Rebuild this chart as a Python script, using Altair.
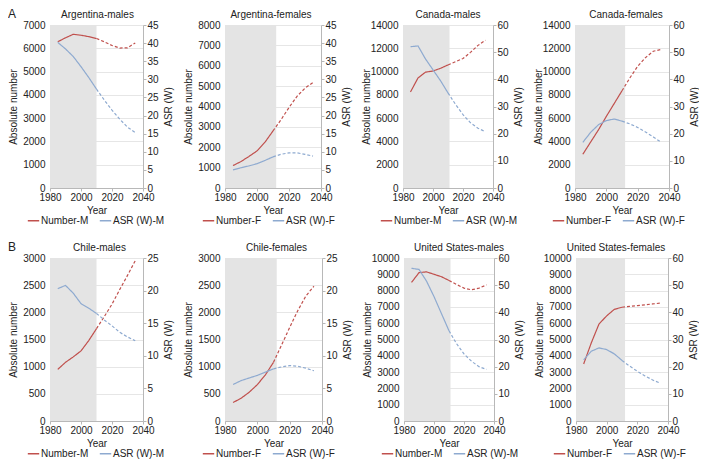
import altair as alt
import pandas as pd

# ---------------- data ----------------
years = [1985, 1990, 1995, 2000, 2005, 2010, 2015, 2020, 2025, 2030, 2035]

panel_titles = ["Argentina-males", "Argentina-females", "Canada-males", "Canada-females",
                "Chile-males", "Chile-females", "United States-males", "United States-females"]
panel_sex = ["M", "F", "M", "F", "M", "F", "M", "F"]
row_labels = ["A", "B"]

number_arg_m = [6280, 6450, 6600, 6560, 6500, 6420, 6280, 6120, 6010, 6020, 6230]
asr_arg_m = [40.2, 38.4, 36.3, 33.5, 30.5, 27.3, 24.3, 21.5, 19.0, 16.8, 15.3]
number_arg_f = [1100, 1300, 1550, 1820, 2250, 2800, 3350, 3950, 4500, 4900, 5180]
asr_arg_f = [5.0, 5.6, 6.1, 6.7, 7.6, 8.6, 9.3, 9.7, 9.7, 9.3, 8.8]
number_can_m = [8250, 9450, 9950, 10050, 10280, 10570, 10850, 11120, 11650, 12250, 12700]
asr_can_m = [52.0, 52.3, 47.5, 43.5, 39.5, 35.0, 30.8, 27.0, 24.0, 22.0, 20.7]
number_can_f = [2900, 3950, 5000, 6150, 7250, 8350, 9450, 10450, 11200, 11750, 11900]
asr_can_f = [16.8, 20.5, 23.3, 24.8, 25.4, 24.6, 23.6, 22.3, 20.6, 18.8, 16.8]
number_chi_m = [950, 1080, 1180, 1290, 1480, 1700, 1920, 2150, 2420, 2680, 2950]
asr_chi_m = [20.3, 20.8, 19.6, 18.0, 17.3, 16.5, 15.5, 14.6, 13.6, 12.9, 12.3]
number_chi_f = [340, 420, 530, 670, 850, 1080, 1400, 1720, 2030, 2300, 2480]
asr_chi_f = [5.6, 6.2, 6.6, 7.0, 7.5, 8.0, 8.3, 8.5, 8.4, 8.1, 7.7]
number_usa_m = [8500, 9100, 9150, 9000, 8850, 8620, 8380, 8150, 8050, 8150, 8350]
asr_usa_m = [56.2, 55.8, 51.5, 45.8, 39.5, 33.2, 28.5, 24.7, 22.0, 20.0, 19.0]
number_usa_f = [3500, 4800, 5950, 6450, 6850, 6980, 7030, 7080, 7130, 7180, 7230]
asr_usa_f = [22.5, 25.7, 26.9, 26.3, 24.7, 22.3, 20.2, 18.3, 16.6, 15.1, 13.9]

numbers = [number_arg_m, number_arg_f, number_can_m, number_can_f,
           number_chi_m, number_chi_f, number_usa_m, number_usa_f]
asrs = [asr_arg_m, asr_arg_f, asr_can_m, asr_can_f,
        asr_chi_m, asr_chi_f, asr_usa_m, asr_usa_f]

shade_start = 1980
shade_end = [2010, 2012, 2011, 2012, 2010, 2012, 2011, 2012]
projection_from = 2010

left_max = [7000, 8000, 14000, 14000, 3000, 3000, 10000, 10000]
left_step = [1000, 1000, 2000, 2000, 500, 500, 1000, 1000]
right_max = [45, 45, 60, 60, 25, 25, 60, 60]
right_step = [5, 5, 10, 10, 5, 5, 10, 10]
x_ticks = [1980, 2000, 2020, 2040]

# ---------------- style ----------------
RED = "#c0504d"
BLUE = "#8eaad0"
BAND = "#e4e4e4"
GRID = "#e6e6e6"
AXC = "#b8b8b8"
TXT = "#222222"
FONT = "Liberation Sans"
H = 163
widths = [93, 96, 90, 94, 93, 97, 90, 92]
title_dx = [1, -2, 0, 4, 3, 3, 10, -6]


def ticks(mx, step):
    return [k * step for k in range(int(round(mx / step)) + 1)]


def make_panel(i):
    s = panel_sex[i]
    num_name = f"Number-{s}"
    asr_name = f"ASR (W)-{s}"
    rows_n, rows_a = [], []
    for yr, n, a in zip(years, numbers[i], asrs[i]):
        if yr < projection_from:
            phases = ["obs"]
        elif yr > projection_from:
            phases = ["proj"]
        else:
            phases = ["obs", "proj"]
        for ph in phases:
            rows_n.append({"year": yr, "value": n, "series": num_name, "phase": ph})
            rows_a.append({"year": yr, "value": a, "series": asr_name, "phase": ph})

    xs = alt.Scale(domain=[1980, 2040], nice=False, zero=False)
    xaxis = alt.Axis(values=x_ticks, format="d", title="Year", grid=False,
                     tickSize=3, labelPadding=1, titlePadding=3, labelFlush=False,
                     domainColor=AXC, tickColor=AXC)
    color = alt.Color(
        "series:N",
        scale=alt.Scale(domain=[num_name, asr_name], range=[RED, BLUE]),
        legend=alt.Legend(orient="none", legendX=-23, legendY=H + 26,
                          direction="horizontal", title=None, symbolType="stroke",
                          symbolSize=130, symbolStrokeWidth=1.5, labelFontSize=10,
                          labelFont=FONT, labelColor=TXT, columnPadding=7,
                          labelOffset=1, padding=0),
    )
    dash = alt.StrokeDash("phase:N",
                          scale=alt.Scale(domain=["obs", "proj"], range=[[1, 0], [3, 2]]),
                          legend=None)

    band = alt.Chart(pd.DataFrame({"start": [shade_start], "end": [shade_end[i]]})).mark_rect(
        color=BAND).encode(
        x=alt.X("start:Q", scale=xs, axis=xaxis),
        x2="end:Q",
    )
    num = alt.Chart(pd.DataFrame(rows_n)).mark_line(strokeWidth=1.2).encode(
        x=alt.X("year:Q", scale=xs, axis=xaxis),
        y=alt.Y("value:Q", scale=alt.Scale(domain=[0, left_max[i]], nice=False),
                axis=alt.Axis(orient="left", values=ticks(left_max[i], left_step[i]),
                              title="Absolute number", grid=True, gridColor=GRID,
                              ticks=False, labelPadding=5, minExtent=30, maxExtent=30,
                              titlePadding=2, domainColor=AXC, format="d")),
        color=color,
        strokeDash=dash,
    )
    asr = alt.Chart(pd.DataFrame(rows_a)).mark_line(strokeWidth=1.2).encode(
        x=alt.X("year:Q", scale=xs, axis=xaxis),
        y=alt.Y("value:Q", scale=alt.Scale(domain=[0, right_max[i]], nice=False),
                axis=alt.Axis(orient="right", values=ticks(right_max[i], right_step[i]),
                              title="ASR (W)", grid=False, tickSize=3, labelPadding=1,
                              minExtent=18, maxExtent=18, titlePadding=2, titleAngle=270,
                              titleBaseline="top",
                              domainColor=AXC, tickColor=AXC)),
        color=color,
        strokeDash=dash,
    )
    title = alt.Chart(pd.DataFrame({"t": [panel_titles[i]]})).mark_text(
        fontSize=10, fontWeight="normal", align="center", baseline="alphabetic",
        font=FONT, fill=TXT, strokeWidth=0).encode(
        text="t:N", x=alt.value(widths[i] / 2 + title_dx[i]), y=alt.value(-7))
    layers = [band, num, asr, title]
    if i % 4 == 0:
        lab = alt.Chart(pd.DataFrame({"label": [row_labels[i // 4]]})).mark_text(
            fontSize=12, fontWeight="normal", align="left", baseline="alphabetic",
            font=FONT, fill=TXT, strokeWidth=0).encode(
            text="label:N", x=alt.value(-42), y=alt.value(-7))
        layers.append(lab)
    return alt.layer(*layers).resolve_scale(y="independent").properties(
        width=widths[i], height=H)


panels = [make_panel(i) for i in range(8)]
row_a = alt.hconcat(*panels[:4], spacing=10).resolve_scale(color="independent")
row_b = alt.hconcat(*panels[4:], spacing=10).resolve_scale(color="independent")

chart = alt.vconcat(row_a, row_b, spacing=15).resolve_scale(color="independent").properties(
    padding=0
).configure(font=FONT).configure_view(stroke=None).configure_axis(
    labelFontSize=10, titleFontSize=10, titleFontWeight="normal",
    labelColor=TXT, titleColor=TXT, labelFont=FONT, titleFont=FONT,
)

chart.save("out.html", embed_options={"renderer": "svg", "actions": False})
